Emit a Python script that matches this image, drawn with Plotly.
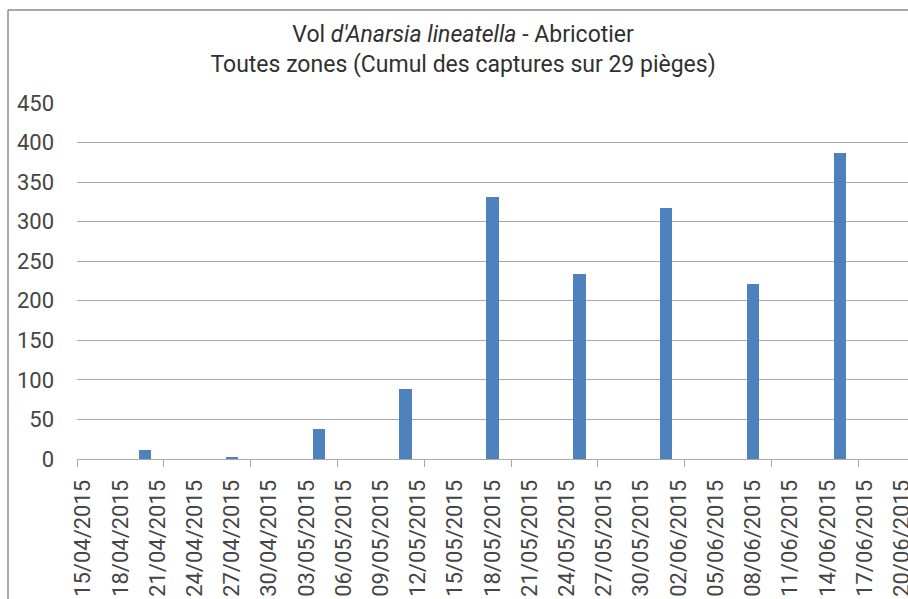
import plotly.graph_objects as go

# Data
dates = ["2015-04-20", "2015-04-27", "2015-05-04", "2015-05-11", "2015-05-18",
         "2015-05-25", "2015-06-01", "2015-06-08", "2015-06-15"]
captures = [12, 2, 38, 88, 331, 234, 317, 221, 387]
y_ticks = [0, 50, 100, 150, 200, 250, 300, 350, 400, 450]

DAY = 86400000
FONT = "Roboto"
TXT = "#454545"
GRID = "#a9a9a9"

fig = go.Figure()
fig.add_trace(go.Bar(
    x=dates, y=captures,
    xperiod=DAY, xperiodalignment="middle",
    width=DAY,
    marker=dict(color="#4f81bd", line=dict(width=0)),
))

fig.update_layout(
    width=908, height=599,
    margin=dict(l=77, r=0, t=103, b=140, autoexpand=False),
    paper_bgcolor="white", plot_bgcolor="white",
    showlegend=False,
    bargap=0,
    title=dict(
        text="Vol <i>d'Anarsia lineatella</i> - Abricotier<br>Toutes zones (Cumul des captures sur 29 pièges)",
        x=0.51, xanchor="center", xref="container",
        y=1 - 42 / 599, yanchor="middle", yref="container",
        font=dict(family=FONT, size=23, color="#303030"),
        automargin=False,
    ),
    font=dict(family=FONT, color=TXT),
)

fig.update_xaxes(
    type="date",
    range=["2015-04-15", "2015-06-21"],
    tick0="2015-04-15 12:00", dtick=3 * DAY,
    tickformat="%d/%m/%Y",
    tickangle=-90,
    ticks="", ticklabelstandoff=11,
    ticklabeloverflow="allow",
    automargin=False,
    tickfont=dict(family=FONT, size=22, color=TXT),
    showgrid=False,
    showline=True, linecolor=GRID, linewidth=1,
    zeroline=False,
    minor=dict(ticks="outside", tick0="2015-04-15", dtick=7 * DAY,
               ticklen=7, tickcolor=GRID, tickwidth=1, showgrid=False),
    fixedrange=True,
)

fig.update_yaxes(
    range=[0, 450],
    tickvals=y_ticks,
    ticks="", ticklabelstandoff=22,
    automargin=False,
    tickfont=dict(family=FONT, size=22, color=TXT),
    showgrid=True, gridcolor=GRID, gridwidth=1,
    zeroline=False, showline=False,
)

# chart border (left and top edges visible)
fig.add_shape(type="line", xref="paper", yref="paper",
              x0=(8 - 77) / 831, x1=1.2, y0=(459 - 10) / 356, y1=(459 - 10) / 356,
              line=dict(color="#8c8c8c", width=1.5))
fig.add_shape(type="line", xref="paper", yref="paper",
              x0=(8 - 77) / 831, x1=(8 - 77) / 831, y0=(459 - 10) / 356, y1=-1,
              line=dict(color="#8c8c8c", width=1.5))

fig.write_html(
    "out.html",
    config={"displayModeBar": False},
    post_script="document.body.style.margin='0';document.body.style.overflow='hidden';",
)
